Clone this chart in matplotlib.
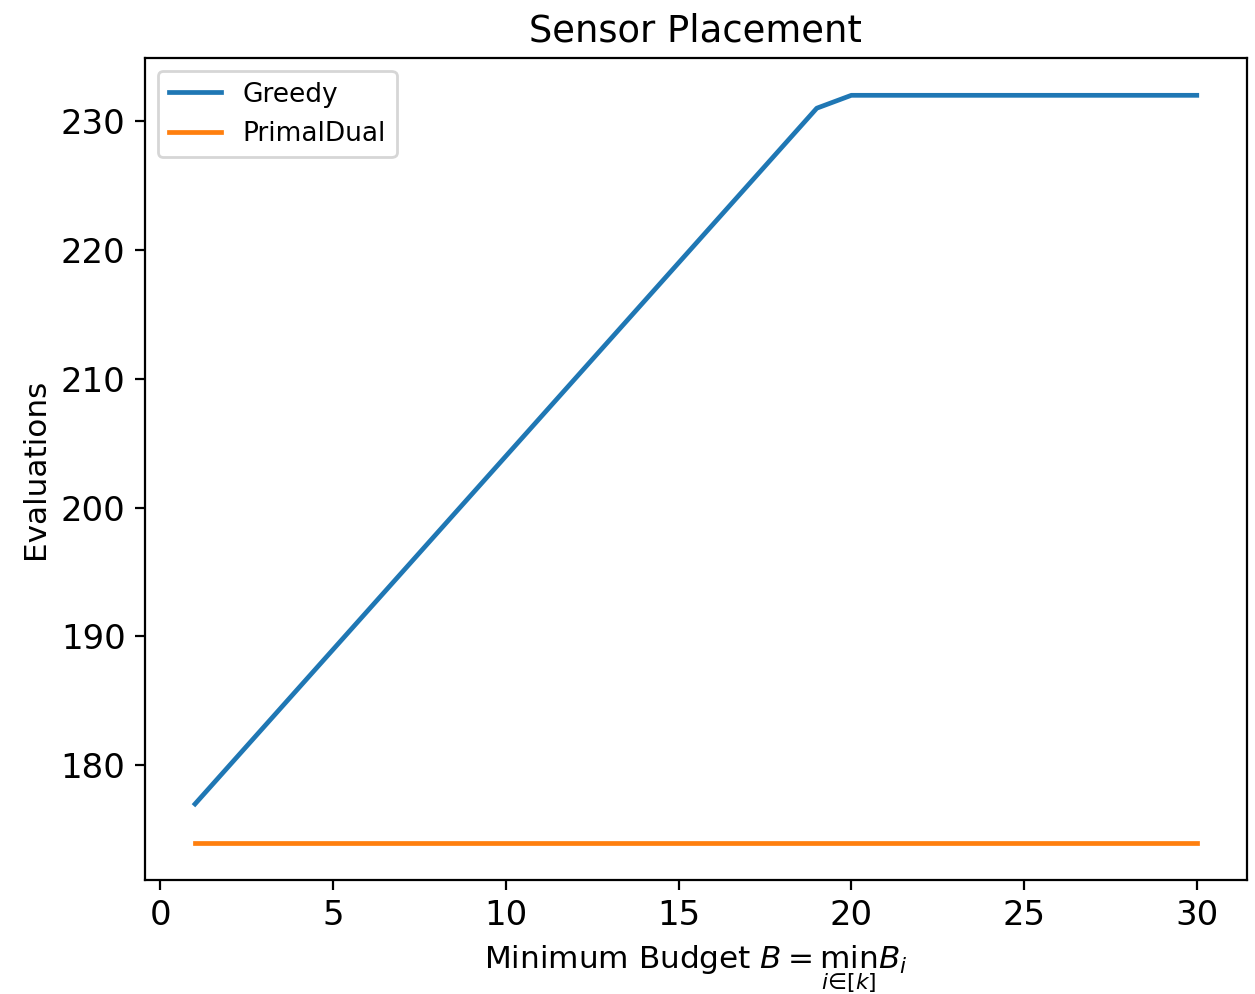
import matplotlib
matplotlib.use('Agg')
import matplotlib.pyplot as plt

# Data
budgets = list(range(1, 31))
greedy = [177, 180, 183, 186, 189, 192, 195, 198, 201, 204,
          207, 210, 213, 216, 219, 222, 225, 228, 231, 232,
          232, 232, 232, 232, 232, 232, 232, 232, 232, 232]
primal_dual = [174] * 30

fig = plt.figure(figsize=(6.275, 4.97), dpi=200)
ax = fig.add_axes([0.1155, 0.1147, 0.878, 0.827])

ax.plot(budgets, greedy, label='Greedy', linewidth=1.7)
ax.plot(budgets, primal_dual, label='PrimalDual', linewidth=1.7)

ax.set_title('Sensor Placement', fontsize=13.3)
ax.set_xlabel(r'Minimum Budget $B = \min_{i \in [k]} B_i$', fontsize=11.2)
ax.set_ylabel('Evaluations', fontsize=11.2)
ax.tick_params(labelsize=12.2)
ax.legend(loc='upper left', fontsize=9.5)

fig.savefig('out.png', dpi=200)
